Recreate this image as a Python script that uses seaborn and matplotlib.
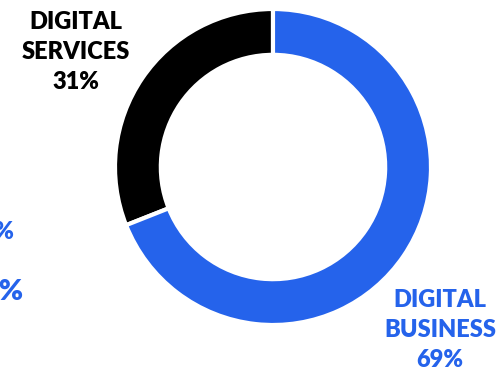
import matplotlib
matplotlib.use("Agg")
import matplotlib.pyplot as plt
import seaborn as sns

sns.set_theme(style="white")
plt.rcParams["font.family"] = ["Lato", "DejaVu Sans"]

# Revenue split
categories = ["DIGITAL SERVICES", "DIGITAL BUSINESS"]
shares = [31, 69]
colors = ["#000000", "#2563eb"]

W, H = 500, 377
fig = plt.figure(figsize=(W / 100, H / 100), dpi=100)
fig.patch.set_facecolor("white")

cx, cy, r = 273, 167, 158
ax = fig.add_axes([(cx - r) / W, (H - cy - r) / H, 2 * r / W, 2 * r / H])
ax.pie(shares, colors=colors, startangle=90, counterclock=True,
       radius=1.0, wedgeprops=dict(width=0.29, edgecolor="white", linewidth=3))
ax.set_xlim(-1, 1)
ax.set_ylim(-1, 1)
ax.set_aspect("equal")
ax.axis("off")

def px(x, y):
    return x / W, 1 - y / H

# Wedge labels
x, y = px(76, 52)
fig.text(x, y, f"DIGITAL\nSERVICES\n{shares[0]}%", ha="center", va="center",
         fontsize=17, fontweight="heavy", color=colors[0], linespacing=1.45)
x, y = px(440, 330)
fig.text(x, y, f"DIGITAL\nBUSINESS\n{shares[1]}%", ha="center", va="center",
         fontsize=17, fontweight="heavy", color=colors[1], linespacing=1.45)

# Side figures running off the left edge
x, y = px(14, 232)
fig.text(x, y, f"{shares[0]}%", ha="right", va="center", fontsize=17,
         fontweight="heavy", color=colors[1])
x, y = px(23, 292)
fig.text(x, y, f"{shares[1]}%", ha="right", va="center", fontsize=21,
         fontweight="heavy", color=colors[1])

fig.savefig("out.png", dpi=100, facecolor="white")
